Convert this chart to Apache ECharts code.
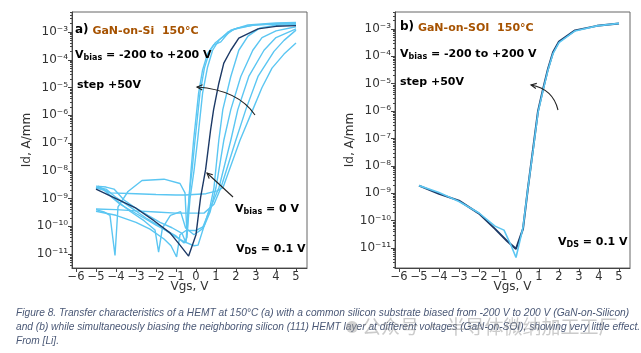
<!DOCTYPE html>
<html>
<head>
<meta charset="utf-8">
<script src="https://cdn.jsdelivr.net/npm/echarts@6/dist/echarts.min.js"></script>
<style>
html, body { margin: 0; padding: 0; background: #fff; }
#main { width: 641px; height: 353px; }
</style>
</head>
<body>
<div id="main"></div>
<script>
// tick labels
var xTicks = [-6, -5, -4, -3, -2, -1, 0, 1, 2, 3, 4, 5];
var yTicks = [1e-11, 1e-10, 1e-9, 1e-8, 1e-7, 1e-6, 1e-5, 1e-4, 1e-3];

// a) GaN-on-Si, [Vgs (V), Id (A/mm)]
var siBias0 = [[-5, 2.2e-9], [-4, 1.0e-9], [-3, 4.5e-10], [-2.1, 1.6e-10], [-1.3, 5.8e-11], [-0.8, 2.1e-11],
    [-0.37, 8.5e-12], [0, 5.0e-11], [0.23, 1.1e-9], [0.48, 1.1e-8], [0.73, 3.0e-7], [0.88, 1.6e-6],
    [1.14, 1.4e-5], [1.39, 7.6e-5], [1.74, 2.2e-4], [2.14, 6.0e-4], [3.1, 1.3e-3], [4, 1.6e-3], [5, 1.7e-3]];
var siL1 = [[-5, 2.4e-9], [-4.6, 2.1e-9], [-4.2, 1.1e-9], [-3.8, 6.3e-10], [-3.2, 3.5e-10], [-2.6, 2.0e-10],
    [-2, 1.1e-10], [-1.5, 7.1e-11], [-1, 4.5e-11], [-0.6, 2.5e-11], [-0.45, 4.0e-11], [-0.35, 1.0e-9],
    [-0.25, 1.0e-8], [-0.12, 1.26e-7], [0.13, 6.3e-6], [0.33, 4.3e-5], [0.58, 1.7e-4], [0.88, 3.4e-4],
    [1.24, 4.4e-4], [1.74, 1.17e-3], [2.6, 1.78e-3], [4, 2.1e-3], [5, 2.2e-3]];
var siL2 = [[-5, 4.0e-10], [-4.6, 3.3e-10], [-4.3, 2.5e-10], [-4.05, 8.9e-12], [-3.9, 5.0e-10], [-3.4, 1.8e-9],
    [-2.7, 4.5e-9], [-1.6, 5.0e-9], [-0.8, 3.5e-9], [-0.55, 1.6e-9], [-0.45, 5.0e-11], [-0.3, 1.0e-9],
    [-0.1, 1.0e-8], [0.08, 1.26e-7], [0.33, 6.3e-6], [0.58, 5.5e-5], [0.83, 2.2e-4], [1.14, 5.0e-4],
    [1.6, 1.0e-3], [2.1, 1.4e-3], [3, 1.8e-3], [5, 2.0e-3]];
var siL3 = [[-5, 2.8e-9], [-4.5, 2.6e-9], [-4.1, 2.2e-9], [-3.6, 8.9e-10], [-3, 4.5e-10], [-2.4, 2.5e-10],
    [-1.8, 1.4e-10], [-1.2, 8.9e-11], [-0.7, 5.6e-11], [-0.5, 2.5e-11], [-0.4, 4.0e-10], [-0.3, 2.5e-9],
    [-0.2, 1.0e-8], [-0.05, 1.26e-7], [0.2, 6.3e-6], [0.42, 5.0e-5], [0.68, 2.0e-4], [0.95, 4.0e-4],
    [1.3, 6.3e-4], [1.9, 1.26e-3], [2.8, 1.74e-3], [4, 2.0e-3], [5, 2.1e-3]];
var siR1 = [[-5, 2.6e-9], [-4.5, 2.2e-9], [-4, 1.1e-9], [-3.3, 5.0e-10], [-2.5, 2.0e-10], [-1.8, 1.0e-10],
    [-1.2, 5.0e-11], [-0.6, 2.8e-11], [-0.1, 2.0e-11], [0.1, 2.1e-11], [0.4, 1.0e-10], [0.7, 5.0e-10],
    [0.9, 2.5e-9], [1.14, 1.26e-7], [1.34, 1.6e-6], [1.74, 2.5e-5], [2.14, 2.2e-4], [2.6, 7.1e-4],
    [3.2, 1.4e-3], [4, 1.74e-3], [5, 1.86e-3]];
var siR2 = [[-5, 3.5e-10], [-4, 2.5e-10], [-3, 1.4e-10], [-2.3, 7.9e-11], [-1.6, 3.5e-11], [-1.25, 2.0e-11],
    [-0.97, 7.9e-12], [-0.8, 5.0e-11], [-0.5, 7.1e-11], [0, 7.1e-11], [0.4, 1.0e-10], [0.7, 3.2e-10],
    [1.0, 2.5e-9], [1.39, 1.26e-7], [1.74, 1.6e-6], [2.24, 2.5e-5], [2.84, 2.2e-4], [3.3, 6.3e-4],
    [4, 1.1e-3], [5, 1.55e-3]];
var siR3 = [[-5, 2.5e-9], [-4.6, 2.0e-9], [-4, 8.9e-10], [-3.3, 3.5e-10], [-2.6, 1.6e-10], [-2.05, 7.4e-11],
    [-1.87, 1.17e-11], [-1.68, 8.7e-11], [-1.28, 2.5e-10], [-0.77, 3.4e-10], [-0.52, 8.7e-11], [-0.1, 5.0e-11],
    [0.3, 7.9e-11], [0.8, 6.3e-10], [1.15, 2.5e-9], [1.74, 1.26e-7], [2.09, 1.6e-6], [2.64, 2.5e-5],
    [3.4, 2.2e-4], [4, 6.3e-4], [5, 1.3e-3]];
var siR4 = [[-5, 4.2e-10], [-4, 4.0e-10], [-3, 3.6e-10], [-2, 3.3e-10], [-1, 3.0e-10], [0.4, 3.0e-10],
    [0.9, 6.3e-10], [1.25, 2.5e-9], [1.99, 1.26e-7], [2.49, 1.6e-6], [3.1, 2.5e-5], [3.9, 2.0e-4],
    [4.4, 5.0e-4], [5, 1.17e-3]];
var siR5 = [[-4.9, 2.8e-9], [-4.3, 1.6e-9], [-3, 1.5e-9], [-2, 1.4e-9], [-1, 1.35e-9], [-0.55, 1.35e-9],
    [0.5, 1.5e-9], [1.05, 1.9e-9], [1.35, 2.5e-9], [2.2, 1.26e-7], [2.84, 1.6e-6], [3.3, 1.0e-5],
    [3.8, 5.0e-5], [4.4, 1.6e-4], [5, 4.0e-4]];

// b) GaN-on-SOI
var soiBias0 = [[-5, 1.9e-9], [-4, 9.5e-10], [-3, 5.4e-10], [-2.9, 5.0e-10], [-2, 1.8e-10], [-1.2, 5.0e-11],
    [-0.6, 1.8e-11], [-0.15, 9.3e-12], [0.2, 5.0e-11], [0.45, 1.6e-9], [0.7, 4.0e-8], [0.95, 1.0e-6],
    [1.2, 6.3e-6], [1.45, 3.5e-5], [1.7, 1.4e-4], [2.0, 3.5e-4], [2.8, 8.9e-4], [3.9, 1.3e-3], [5, 1.6e-3]];
var soiOthers = [[-5, 1.9e-9], [-4, 1.07e-9], [-3, 5.0e-10], [-2, 1.9e-10], [-1.2, 6.3e-11], [-0.75, 4.5e-11],
    [-0.4, 1.26e-11], [-0.15, 4.5e-12], [0.2, 5.6e-11], [0.45, 1.6e-9], [0.7, 3.5e-8], [0.95, 8.9e-7],
    [1.2, 5.6e-6], [1.45, 3.2e-5], [1.7, 1.26e-4], [2.0, 3.2e-4], [2.8, 8.5e-4], [3.9, 1.3e-3], [5, 1.6e-3]];

var siOthers = [siL1, siL2, siL3, siR1, siR2, siR3, siR4, siR5];

var LIGHT = '#5bc6f2';
var DARK = '#1c3966';
var FONT = 'DejaVu Sans';
var SUP = {'0': '\u2070', '1': '\u00b9', '2': '\u00b2', '3': '\u00b3', '4': '\u2074', '5': '\u2075',
           '6': '\u2076', '7': '\u2077', '8': '\u2078', '9': '\u2079', '-': '\u207b'};

// minor ticks of the log axis: 2..9 x 10^n
var yMinor = [];
for (var e = -12; e <= -3; e++) {
    for (var k = 2; k <= 9; k++) {
        yMinor.push(k * Math.pow(10, e));
    }
}

var myChart = echarts.init(document.getElementById('main'));

function xAxisFor(g) {
    return {
        type: 'value', gridIndex: g, min: -6.2, max: 5.55,
        name: 'Vgs, V', nameLocation: 'middle', nameGap: 13, nameMoveOverlap: false,
        nameTextStyle: {fontSize: 12, color: '#333', fontFamily: FONT},
        axisLine: {onZero: false, lineStyle: {color: '#444'}},
        axisTick: {customValues: xTicks, length: 4, lineStyle: {color: '#444'}},
        axisLabel: {
            customValues: xTicks, fontSize: 11.5, color: '#333', fontFamily: FONT, margin: 3,
            formatter: function(v) { return v < 0 ? '\u2212' + (-v) : String(v); }
        },
        splitLine: {show: false}
    };
}

function yAxisFor(g, lo, hi) {
    return {
        type: 'log', logBase: 10, gridIndex: g, min: Math.pow(10, lo), max: Math.pow(10, hi),
        name: 'Id, A/mm', nameLocation: 'middle', nameGap: 37,
        nameTextStyle: {fontSize: 12, color: '#333', fontFamily: FONT},
        axisLine: {onZero: false, lineStyle: {color: '#444'}},
        axisTick: {customValues: yTicks, length: 4, lineStyle: {color: '#444'}},
        axisLabel: {
            customValues: yTicks, margin: 4, fontSize: 12, color: '#333', fontFamily: FONT,
            formatter: function(v) {
                var ex = String(Math.round(Math.log10(v)));
                return '10' + ex.split('').map(function(c) { return SUP[c]; }).join('');
            }
        },
        splitLine: {show: false}
    };
}

function minorAxisFor(g, lo, hi) {
    return {
        type: 'log', logBase: 10, gridIndex: g, position: 'left', min: Math.pow(10, lo), max: Math.pow(10, hi),
        axisLine: {show: false, onZero: false},
        axisTick: {customValues: yMinor, length: 2, lineStyle: {color: '#444'}},
        axisLabel: {show: false},
        splitLine: {show: false}
    };
}

function line(data, color, g, width, z) {
    return {
        type: 'line', data: data, xAxisIndex: g, yAxisIndex: g * 2,
        symbol: 'none', lineStyle: {color: color, width: width}, itemStyle: {color: color},
        z: z, silent: true
    };
}

var series = [];
siOthers.forEach(function(d) { series.push(line(d, LIGHT, 0, 1.4, 2)); });
series.push(line(siBias0, DARK, 0, 1.4, 3));
series.push(line(soiBias0, DARK, 1, 2, 2));
series.push(line(soiOthers, LIGHT, 1, 1.6, 3));

// annotation texts
var bold = {fontFamily: FONT, fontWeight: 'bold', fontSize: 11, fill: '#000'};
var rich = {
    a: {fontFamily: FONT, fontWeight: 'bold', fontSize: 12, fill: '#000', padding: [0, 0, 3, 0]},
    g: {fontFamily: FONT, fontWeight: 'bold', fontSize: 11, fill: '#a65200'},
    sub: {fontFamily: FONT, fontWeight: 'bold', fontSize: 8, fill: '#000', padding: [6, 0, 0, 0]}
};
function label(x, y, text) {
    return {
        type: 'text', z: 10, silent: true,
        style: Object.assign({x: x, y: y, text: text, rich: rich, verticalAlign: 'middle'}, bold)
    };
}

function arrowHead(ex, ey, fx, fy) {
    var dx = ex - fx, dy = ey - fy, len = Math.sqrt(dx * dx + dy * dy);
    dx /= len; dy /= len;
    var L = 6, a = 0.45, pts = [];
    [a, -a].forEach(function(t) {
        var rx = dx * Math.cos(t) - dy * Math.sin(t), ry = dx * Math.sin(t) + dy * Math.cos(t);
        pts.push([ex - L * rx, ey - L * ry]);
    });
    return {
        type: 'polyline', z: 10, silent: true,
        shape: {points: [pts[0], [ex, ey], pts[1]]},
        style: {stroke: '#222', lineWidth: 1.1, fill: null}
    };
}
function curvedArrow(x1, y1, cx, cy, x2, y2) {
    return [{
        type: 'bezierCurve', z: 10, silent: true,
        shape: {x1: x1, y1: y1, cpx1: cx, cpy1: cy, x2: x2, y2: y2},
        style: {stroke: '#222', lineWidth: 1.1, fill: null}
    }, arrowHead(x2, y2, cx, cy)];
}

var caption = [
    'Figure 8. Transfer characteristics of a HEMT at 150\u00b0C (a) with a common silicon substrate biased from -200 V to 200 V (GaN-on-Silicon)',
    'and (b) while simultaneously biasing the neighboring silicon (111) HEMT layer at different voltages (GaN-on-SOI), showing very little effect.',
    'From [Li].'
];

var graphic = [
    label(75, 31, '{a|a)} {g|GaN-on-Si  150\u00b0C}'),
    label(75, 55, 'V{sub|bias} = -200 to +200 V'),
    label(77, 85, 'step +50V'),
    label(235, 209, 'V{sub|bias} = 0 V'),
    label(236, 249, 'V{sub|DS} = 0.1 V'),
    label(400, 28, '{a|b)} {g|GaN-on-SOI  150\u00b0C}'),
    label(400, 54, 'V{sub|bias} = -200 to +200 V'),
    label(400, 82, 'step +50V'),
    label(558, 242, 'V{sub|DS} = 0.1 V')
];
graphic = graphic.concat(curvedArrow(255, 115, 238, 90, 197, 87));
graphic.push({
    type: 'line', z: 10, silent: true,
    shape: {x1: 233, y1: 197, x2: 207, y2: 173},
    style: {stroke: '#222', lineWidth: 1.1}
});
graphic.push(arrowHead(207, 173, 233, 197));
graphic = graphic.concat(curvedArrow(558, 110, 553, 89, 531, 85));

caption.forEach(function(t, i) {
    graphic.push({
        type: 'text', silent: true,
        style: {
            x: 16, y: 313 + i * 14, text: t, verticalAlign: 'middle',
            font: 'italic 10.2px "Liberation Sans"', fill: '#4a5876'
        }
    });
});
// watermark
graphic.push({
    type: 'circle', silent: true, shape: {cx: 352, cy: 327, r: 6},
    style: {fill: 'rgba(150,150,150,0.45)'}
});
graphic.push({
    type: 'text', silent: true,
    style: {
        x: 362, y: 327, text: '公众号 · 半导体微纳加工工厂', verticalAlign: 'middle',
        font: '19px "Noto Sans CJK SC"', fill: 'rgba(140,140,140,0.45)'
    }
});

var option = {
    animation: false,
    backgroundColor: '#fff',
    grid: [
        {left: 72, top: 12, width: 235, height: 256, show: true, borderColor: '#666', borderWidth: 1},
        {left: 395, top: 12, width: 235, height: 256, show: true, borderColor: '#666', borderWidth: 1}
    ],
    xAxis: [xAxisFor(0), xAxisFor(1)],
    yAxis: [yAxisFor(0, -11.5, -2.28), minorAxisFor(0, -11.5, -2.28),
            yAxisFor(1, -11.73, -2.38), minorAxisFor(1, -11.73, -2.38)],
    series: series,
    graphic: graphic
};

myChart.setOption(option);
</script>
</body>
</html>
